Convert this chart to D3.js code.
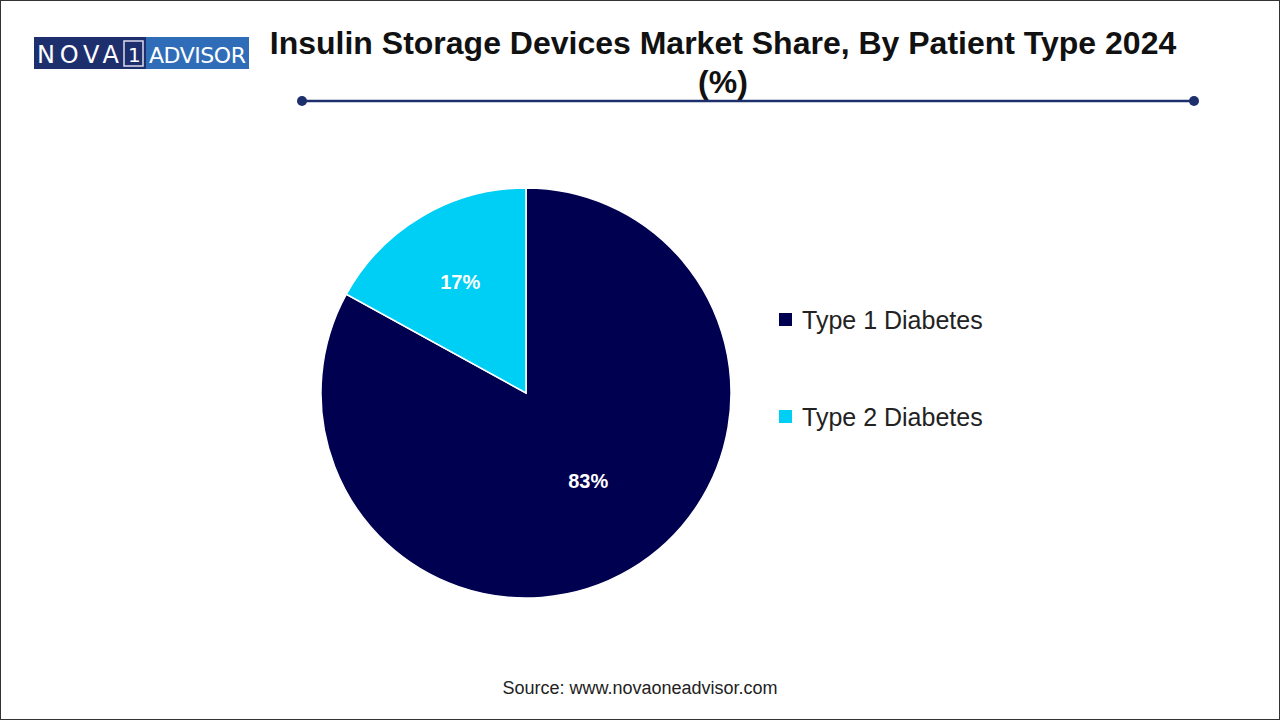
<!DOCTYPE html>
<html><head><meta charset="utf-8">
<script src="https://cdn.jsdelivr.net/npm/d3@7"></script>
<style>body{margin:0;background:#fff}svg{display:block}</style></head>
<body><svg id="c" width="1280" height="720"></svg>
<script>
const categories = ["Type 1 Diabetes", "Type 2 Diabetes"];
const values = [83, 17];
const colors = ["#000050", "#00CFF5"];

const svg = d3.select("#c");
svg.append("rect").attr("x",0.5).attr("y",0.5).attr("width",1279).attr("height",719).attr("fill","#fff").attr("stroke","#333");

// logo
const lg = svg.append("g");
const lf = "DejaVu Sans, sans-serif";
lg.append("rect").attr("x",34).attr("y",37).attr("width",112).attr("height",32).attr("fill","#1e2f6e");
lg.append("rect").attr("x",146).attr("y",37).attr("width",103).attr("height",32).attr("fill","#2f6db8");
lg.append("rect").attr("x",124).attr("y",41).attr("width",19).attr("height",25).attr("fill","none").attr("stroke","#dde").attr("stroke-width",1.5);
lg.append("text").attr("x",37).attr("y",63).attr("fill","#fff").attr("font-family",lf).attr("font-size",24).attr("textLength",82).text("NOVA");
lg.append("text").attr("x",128).attr("y",62).attr("fill","#fff").attr("font-family",lf).attr("font-size",20).text("1");
lg.append("text").attr("x",149).attr("y",63).attr("fill","#fff").attr("font-family",lf).attr("font-size",22).attr("textLength",97).text("ADVISOR");

// title
const tf = "Liberation Sans, Arial, sans-serif";
svg.append("text").attr("x",723).attr("y",54).attr("text-anchor","middle").attr("font-family",tf).attr("font-weight","bold").attr("font-size",32).attr("fill","#111").text("Insulin Storage Devices Market Share, By Patient Type 2024");
svg.append("text").attr("x",723).attr("y",93).attr("text-anchor","middle").attr("font-family",tf).attr("font-weight","bold").attr("font-size",32).attr("fill","#111").text("(%)");
svg.append("line").attr("x1",302).attr("x2",1194).attr("y1",101).attr("y2",101).attr("stroke","#1e2f6e").attr("stroke-width",2.5);
[302,1194].forEach(x=>svg.append("circle").attr("cx",x).attr("cy",101).attr("r",5).attr("fill","#1e2f6e"));

// pie
const cx=526, cy=393, r=205;
const labelRadius = [0.5, 0.63];
const pie = d3.pie().sort(null).value(d=>d)(values);
const arc = d3.arc().innerRadius(0).outerRadius(r);
const g = svg.append("g").attr("transform",`translate(${cx},${cy})`);
g.selectAll("path").data(pie).join("path").attr("d",arc).attr("fill",(d,i)=>colors[i]).attr("stroke","#fff").attr("stroke-width",1.5);
g.selectAll("text").data(pie).join("text")
 .attr("transform",(d,i)=>{const a=d3.arc().innerRadius(r*labelRadius[i]).outerRadius(r*labelRadius[i]);const c=a.centroid(d); return `translate(${c[0]+(i===0?10:0)},${c[1]})`;})
 .attr("text-anchor","middle").attr("dy","0.35em").attr("fill","#fff")
 .attr("font-family",tf).attr("font-weight","bold").attr("font-size",20)
 .text(d=>d.data+"%");

// legend
categories.forEach((c,i)=>{
  const y=320+i*97;
  svg.append("rect").attr("x",779).attr("y",y-7).attr("width",13).attr("height",13).attr("fill",colors[i]);
  svg.append("text").attr("x",802).attr("y",y).attr("dy","0.35em").attr("font-family",tf).attr("font-size",25).attr("fill","#222").text(c);
});

svg.append("text").attr("x",640).attr("y",694).attr("text-anchor","middle").attr("font-family",tf).attr("font-size",18).attr("fill","#222").text("Source: www.novaoneadvisor.com");
</script></body></html>
